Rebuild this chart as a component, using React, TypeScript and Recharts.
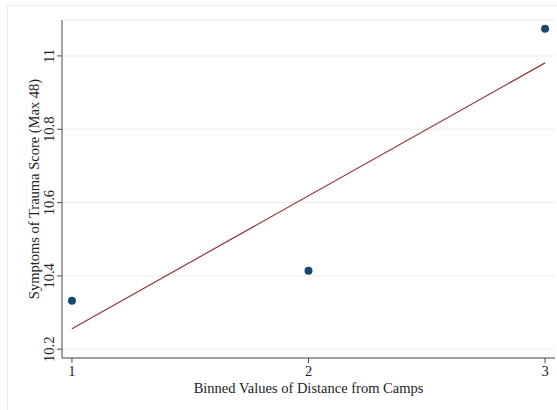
import { ComposedChart, Scatter, Line, XAxis, YAxis, CartesianGrid } from 'recharts';

const distanceBins = [1, 2, 3];
const traumaScores = [10.332, 10.414, 11.074];
const fitValues: (number | null)[] = [10.256, null, 10.981];
const xTicks = [1, 2, 3];
const yTicks = [10.2, 10.4, 10.6, 10.8, 11];

const FONT = '"Liberation Serif", "DejaVu Serif", serif';
const DOT = '#1a476f';
const FIT = '#90353b';
const AXIS = '#4a4a4a';

const data = distanceBins.map((x, i) => ({ x, score: traumaScores[i], fit: fitValues[i] }));

function YTick({ x, y, payload }: any) {
  const tx = x - 1;
  return (
    <text
      x={tx}
      y={y}
      transform={`rotate(-90 ${tx} ${y})`}
      textAnchor="middle"
      fontSize={14.5}
      fontFamily={FONT}
      fill="#222"
    >
      {payload.value}
    </text>
  );
}

function XTick({ x, y, payload }: any) {
  return (
    <text x={x} y={y + 11} textAnchor="middle" fontSize={14.5} fontFamily={FONT} fill="#222">
      {payload.value}
    </text>
  );
}

export default function App() {
  return (
    <div style={{ position: 'absolute', left: 0, top: 0, width: 557, height: 410, background: '#fff' }}>
      <div
        style={{
          position: 'absolute',
          left: 7,
          top: 5,
          width: 560,
          height: 420,
          borderLeft: '1px solid #eeeeee',
          borderTop: '1px solid #eeeeee',
        }}
      />
      <ComposedChart
        width={557}
        height={410}
        data={data}
        margin={{ top: 20, right: 2, left: 0, bottom: 0 }}
        style={{ position: 'absolute', left: 0, top: 0 }}
      >
        <CartesianGrid vertical={false} stroke="#ebebeb" />
        <XAxis
          dataKey="x"
          type="number"
          domain={[0.958, 3.042]}
          ticks={xTicks}
          height={52}
          stroke={AXIS}
          tickSize={5}
          tick={<XTick />}
          label={{
            value: 'Binned Values of Distance from Camps',
            position: 'insideBottom',
            offset: 17,
            fontSize: 14.5,
            fontFamily: FONT,
            fill: '#222',
          }}
        />
        <YAxis
          type="number"
          domain={[10.176, 11.098]}
          ticks={yTicks}
          width={62}
          stroke={AXIS}
          tickSize={5}
          tick={<YTick />}
          label={{
            value: 'Symptoms of Trauma Score (Max 48)',
            angle: -90,
            position: 'insideLeft',
            offset: 34,
            fontSize: 14.5,
            fontFamily: FONT,
            fill: '#222',
            style: { textAnchor: 'middle' },
          }}
        />
        <Line
          dataKey="fit"
          stroke={FIT}
          strokeWidth={1.2}
          dot={false}
          activeDot={false}
          connectNulls
          isAnimationActive={false}
        />
        <Scatter
          dataKey="score"
          fill={DOT}
          isAnimationActive={false}
          shape={(p: any) => <circle cx={p.cx} cy={p.cy} r={4} fill={DOT} />}
        />
      </ComposedChart>
    </div>
  );
}
